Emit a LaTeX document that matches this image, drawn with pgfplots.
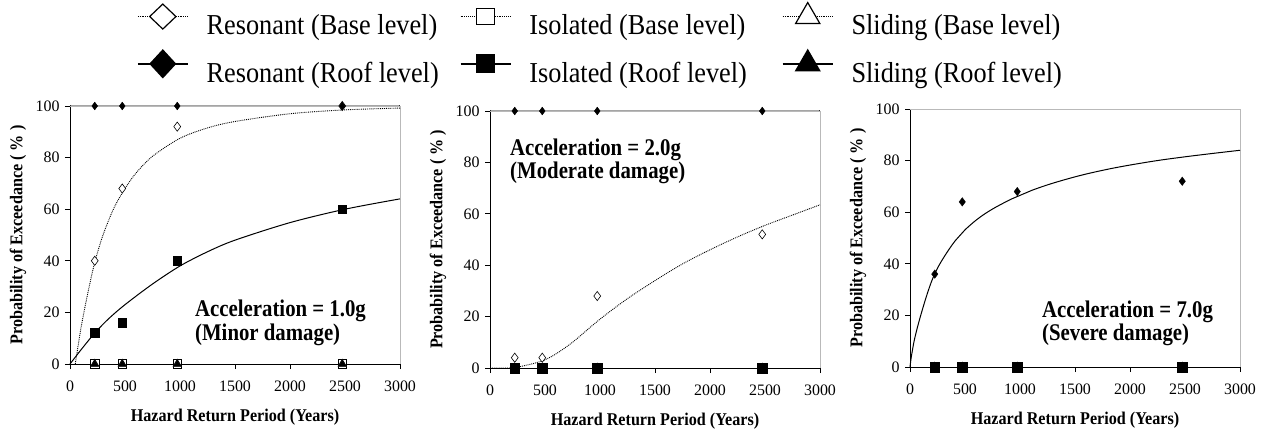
\documentclass[border=0pt]{standalone}
\usepackage{fontspec}
\setmainfont{Liberation Serif}
\newfontfamily\legfont[FakeStretch=0.91]{Liberation Serif}
\newfontfamily\labfont[FakeStretch=0.9]{Liberation Serif}
\newfontfamily\annfont[FakeStretch=0.87]{Liberation Serif}
\usepackage{pgfplots}
\pgfplotsset{compat=1.18}
\pgfplotsset{
  panel/.style={
    scale only axis, width=330bp, height=258bp,
    xmin=0, xmax=3000, ymin=0, ymax=100,
    xtick={0,500,...,3000}, ytick={0,20,...,100},
    axis x line*=bottom, axis y line*=left,
    axis line style={-, black, line width=1bp},
    tick style={black, line width=0.9bp}, tick align=outside, major tick length=5bp,
    /pgf/number format/1000 sep={}, /pgf/number format/assume math mode=true,
    tick label style={font=\fontsize{16}{18}\selectfont},
    xticklabel style={yshift=-8bp},
    yticklabel style={xshift=-2bp},
    xlabel={Hazard Return Period (Years)},
    ylabel={Probability of Exceedance ( \% )},
    every axis x label/.style={at={(axis description cs:0.5,-0.2054)}, anchor=center,
      font=\labfont\bfseries\fontsize{18}{20}\selectfont},
    every axis y label/.style={at={(axis description cs:-0.1576,0.5)}, rotate=90, anchor=center,
      font=\labfont\bfseries\fontsize{18}{20}\selectfont},
    clip=false,
  },
  fdia/.style={only marks, mark=diamond*, mark size=3.9bp, mark options={black, fill=black}},
  hdia/.style={only marks, mark=diamond*, mark size=4.6bp, mark options={black, fill=white, line width=0.6bp}},
  fsq/.style={only marks, mark=square*, mark size=4.4bp, mark options={black, fill=black}},
  hsq/.style={only marks, mark=square*, mark size=4.2bp, mark options={black, fill=white, line width=0.8bp}},
  ftri/.style={only marks, mark=triangle*, mark size=4.8bp, mark options={black, fill=black}},
  htri/.style={only marks, mark=triangle*, mark size=4.8bp, mark options={black, fill=white, line width=0.6bp}},
  trend/.style={black, line width=1bp, smooth, tension=0.5},
  dtrend/.style={black, line width=0.9bp, densely dotted, smooth, tension=0.5},
}
\begin{document}
\begin{tikzpicture}
\useasboundingbox (0,0) rectangle (1265bp,430bp);

% ---------------- Panel 1: 1.0g ----------------
\begin{axis}[panel, at={(70bp,66bp)}, anchor=south west]
\draw[gray!55, line width=0.8bp] (rel axis cs:0,1) -- (rel axis cs:1,1) -- (rel axis cs:1,0);
\addplot[trend] coordinates {(0,100) (3000,100)};
\addplot[dtrend] coordinates {(48,0) (100,14) (150,25) (200,35) (225,39.5) (300,50) (400,60.5) (500,68) (600,74) (750,80.5) (1000,87.5) (1250,91.5) (1500,94) (2000,97) (2500,98.5) (3000,99.2)};
\addplot[trend] coordinates {(0,0) (100,5.5) (225,12) (350,17.5) (500,23) (750,31) (1000,38) (1250,43.5) (1500,48) (2000,54.8) (2500,60) (3000,64)};
\addplot[hdia] coordinates {(225,40) (475,68) (975,92) (2475,100)};
\addplot[fdia] coordinates {(225,100) (475,100) (975,100) (2475,100)};
\addplot[fsq] coordinates {(225,12) (475,16) (975,40) (2475,60)};
\addplot[hsq] coordinates {(225,0) (475,0) (975,0) (2475,0)};
\addplot[htri] coordinates {(225,0) (475,0) (975,0) (2475,0)};
\addplot[ftri, mark size=4.2bp] coordinates {(225,0) (475,0) (975,0) (2475,0)};
\node[anchor=west, align=left, inner sep=0pt, font=\annfont\bfseries\fontsize{24}{23.5}\selectfont] at (axis cs:1136,16) {Acceleration = 1.0g\\(Minor damage)};
\end{axis}

% ---------------- Panel 2: 2.0g ----------------
\begin{axis}[panel, at={(490bp,62bp)}, anchor=south west, height=257bp,
  legend columns=3,
  legend image code/.code={\draw[mark repeat=2, mark phase=2, #1] plot coordinates {(0bp,9bp) (25bp,9bp) (50bp,9bp)};},
  legend style={draw=none, fill=none, inner sep=0pt, outer sep=0pt,
    at={(axis description cs:-1.0697,1.422)}, anchor=north west,
    font=\legfont\fontsize{29}{32}\selectfont,
    legend cell align=left, row sep=14bp, column sep=0pt,
    nodes={inner sep=0pt},
    /tikz/every odd column/.append style={column sep=18bp},
    /tikz/column 2/.append style={column sep=21bp},
    /tikz/column 4/.append style={column sep=35bp}},
]
\draw[gray!55, line width=0.8bp] (rel axis cs:0,1) -- (rel axis cs:1,1) -- (rel axis cs:1,0);
\addplot[trend, forget plot] coordinates {(0,100) (3000,100)};
\addplot[dtrend, forget plot] coordinates {(0,0) (200,0) (250,0.3) (300,0.8) (400,1.8) (500,3.2) (600,5.5) (750,10) (1000,19) (1250,27) (1500,34) (1750,40.5) (2000,46) (2250,51) (2500,55.5) (2750,59.5) (3000,63.5)};
\addplot[hdia, forget plot] coordinates {(225,4) (475,4) (975,28) (2475,52)};
\addplot[fdia, forget plot] coordinates {(225,100) (475,100) (975,100) (2475,100)};
\addplot[htri, forget plot] coordinates {(225,0) (475,0) (975,0) (2475,0)};
\addplot[ftri, forget plot] coordinates {(225,0) (475,0) (975,0) (2475,0)};
\addplot[hsq, forget plot] coordinates {(225,0) (475,0) (975,0) (2475,0)};
\addplot[fsq, mark size=4.7bp, forget plot] coordinates {(225,0) (475,0) (975,0) (2475,0)};
\node[anchor=west, align=left, inner sep=0pt, font=\annfont\bfseries\fontsize{24}{23.5}\selectfont] at (axis cs:182,80.4) {Acceleration = 2.0g\\(Moderate damage)};

\addlegendimage{black, densely dotted, line width=0.9bp, mark=diamond*, mark options={solid, fill=white, mark size=12.5bp, xscale=1.4, line width=1.2bp}}
\addlegendentry{Resonant (Base level)}
\addlegendimage{black, densely dotted, line width=0.9bp, mark=square*, mark options={solid, fill=white, mark size=9bp, yscale=0.85, line width=1.2bp}}
\addlegendentry{Isolated (Base level)}
\addlegendimage{black, densely dotted, line width=0.9bp, mark=triangle*, mark options={solid, fill=white, mark size=14bp, line width=1.2bp}}
\addlegendentry{Sliding (Base level)}
\addlegendimage{black, line width=1.6bp, mark=diamond*, mark options={solid, fill=black, mark size=13.5bp, xscale=1.23}}
\addlegendentry{Resonant (Roof level)}
\addlegendimage{black, line width=1.6bp, mark=square*, mark options={solid, fill=black, mark size=8.7bp}}
\addlegendentry{Isolated (Roof level)}
\addlegendimage{black, line width=1.6bp, mark=triangle*, mark options={solid, fill=black, mark size=13.5bp}}
\addlegendentry{Sliding (Roof level)}
\end{axis}

% ---------------- Panel 3: 7.0g ----------------
\begin{axis}[panel, at={(910bp,63bp)}, anchor=south west]
\draw[gray!55, line width=0.8bp] (rel axis cs:0,1) -- (rel axis cs:1,1) -- (rel axis cs:1,0);
\addplot[trend, tension=0.7] coordinates {(0,0) (8,2.8) (20,6) (45,11.5) (94,19.5) (164,29.3) (224,36) (300,42) (412,49) (503,53.3) (685,59.5) (927,65.2) (1109,68.5) (1382,72.3) (1715,75.9) (2100,79) (2487,81.4) (3000,84)};
\addplot[fdia, mark size=4.2bp] coordinates {(225,36) (475,64) (975,68) (2475,72)};
\addplot[htri] coordinates {(225,0) (475,0) (975,0) (2475,0)};
\addplot[ftri] coordinates {(225,0) (475,0) (975,0) (2475,0)};
\addplot[hsq] coordinates {(225,0) (475,0) (975,0) (2475,0)};
\addplot[fsq, mark size=4.7bp] coordinates {(225,0) (475,0) (975,0) (2475,0)};
\node[anchor=west, align=left, inner sep=0pt, font=\annfont\bfseries\fontsize{24}{23.5}\selectfont] at (axis cs:1200,17) {Acceleration = 7.0g\\(Severe damage)};
\end{axis}
\end{tikzpicture}
\end{document}
